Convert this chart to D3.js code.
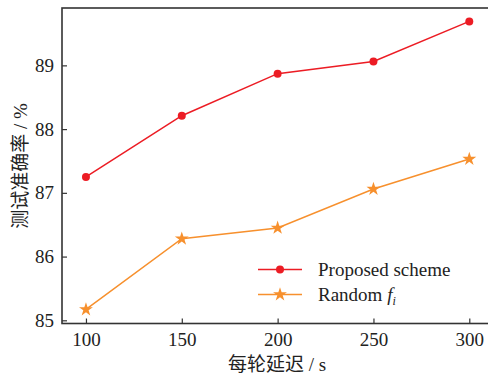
<!DOCTYPE html>
<html>
<head>
<meta charset="utf-8">
<script src="https://cdn.jsdelivr.net/npm/d3@7"></script>
<style>
body { margin: 0; background: #fff; }
.tick text { font-family: 'Liberation Serif', 'Times New Roman', serif; }
</style>
</head>
<body>
<div id="chart"></div>
<script>
// data
var delays = [100, 150, 200, 250, 300];
var proposed = [87.25, 88.21, 88.87, 89.06, 89.69];
var randomFi = [85.17, 86.28, 86.45, 87.06, 87.53];
var xTicks = [100, 150, 200, 250, 300];
var yTicks = [85, 86, 87, 88, 89];

var W = 488, H = 377;
var mLeft = 62, mTop = 8, mRight = 490, mBottom = 323.5;

var svg = d3.select("#chart").append("svg")
    .attr("width", W).attr("height", H);

var x = d3.scaleLinear().domain([87.5, 300 + (mRight - 469.3) / 95.8 * 50]).range([mLeft, mRight]);
var y = d3.scaleLinear().domain([84.95, 89.9]).range([mBottom, mTop]);

var serif = "'Liberation Serif', 'Times New Roman', serif";

// axes, ticks point inward
var xAxis = svg.append("g")
    .attr("transform", "translate(0," + mBottom + ")")
    .call(d3.axisBottom(x).tickValues(xTicks).tickFormat(d3.format("d"))
        .tickSizeInner(-5).tickSizeOuter(0).tickPadding(9));
var yAxis = svg.append("g")
    .attr("transform", "translate(" + mLeft + ",0)")
    .call(d3.axisLeft(y).tickValues(yTicks).tickFormat(d3.format("d"))
        .tickSizeInner(-5).tickSizeOuter(0).tickPadding(8));

[xAxis, yAxis].forEach(function(g) {
    g.attr("font-family", serif).attr("font-size", 19);
    g.select(".domain").remove();
    g.selectAll(".tick line").attr("stroke", "#333").attr("stroke-width", 1.2);
    g.selectAll(".tick text").attr("fill", "#222");
});

// frame
svg.append("rect")
    .attr("x", mLeft).attr("y", mTop)
    .attr("width", mRight - mLeft).attr("height", mBottom - mTop)
    .attr("fill", "none").attr("stroke", "#333").attr("stroke-width", 1.6);

var red = "#ec1c24", orange = "#f7902d";

var line = d3.line()
    .x(function(d, i) { return x(delays[i]); })
    .y(function(d) { return y(d); });

svg.append("path").datum(proposed)
    .attr("d", line).attr("fill", "none")
    .attr("stroke", red).attr("stroke-width", 1.5);
svg.selectAll(".dot").data(proposed).enter().append("circle")
    .attr("cx", function(d, i) { return x(delays[i]); })
    .attr("cy", function(d) { return y(d); })
    .attr("r", 4).attr("fill", red);

var star = d3.symbol().type(d3.symbolStar).size(60);
svg.append("path").datum(randomFi)
    .attr("d", line).attr("fill", "none")
    .attr("stroke", orange).attr("stroke-width", 1.5);
svg.selectAll(".star").data(randomFi).enter().append("path")
    .attr("d", star)
    .attr("transform", function(d, i) { return "translate(" + x(delays[i]) + "," + y(d) + ")"; })
    .attr("fill", orange);

// legend
var lg = svg.append("g");
lg.append("line").attr("x1", 258).attr("x2", 302).attr("y1", 269.5).attr("y2", 269.5)
    .attr("stroke", red).attr("stroke-width", 1.5);
lg.append("circle").attr("cx", 280).attr("cy", 269.5).attr("r", 4).attr("fill", red);
lg.append("text").attr("x", 318).attr("y", 276)
    .style("font-family", serif).style("font-size", "19px").attr("fill", "#222")
    .text("Proposed scheme");

lg.append("line").attr("x1", 258).attr("x2", 302).attr("y1", 294.5).attr("y2", 294.5)
    .attr("stroke", orange).attr("stroke-width", 1.5);
lg.append("path").attr("d", star).attr("transform", "translate(280,294.5)").attr("fill", orange);
var t2 = lg.append("text").attr("x", 318).attr("y", 301)
    .style("font-family", serif).style("font-size", "19px").attr("fill", "#222");
t2.append("tspan").text("Random ");
t2.append("tspan").style("font-style", "italic").text("f");
t2.append("tspan").style("font-style", "italic").style("font-size", "12px").attr("dy", 4).text("i");

// axis titles
svg.append("text")
    .attr("x", 277).attr("y", 371)
    .attr("text-anchor", "middle")
    .attr("fill", "#222")
    .style("font-size", "19px")
    .html("<tspan style=\"font-family:'Noto Sans CJK SC'\">每轮延迟</tspan><tspan style=\"font-family:'Liberation Serif'\"> / s</tspan>");

svg.append("text")
    .attr("transform", "translate(27,166) rotate(-90)")
    .attr("text-anchor", "middle")
    .attr("fill", "#222")
    .style("font-size", "19px")
    .html("<tspan style=\"font-family:'Noto Sans CJK SC'\">测试准确率</tspan><tspan style=\"font-family:'Liberation Serif'\"> / %</tspan>");
</script>
</body>
</html>
